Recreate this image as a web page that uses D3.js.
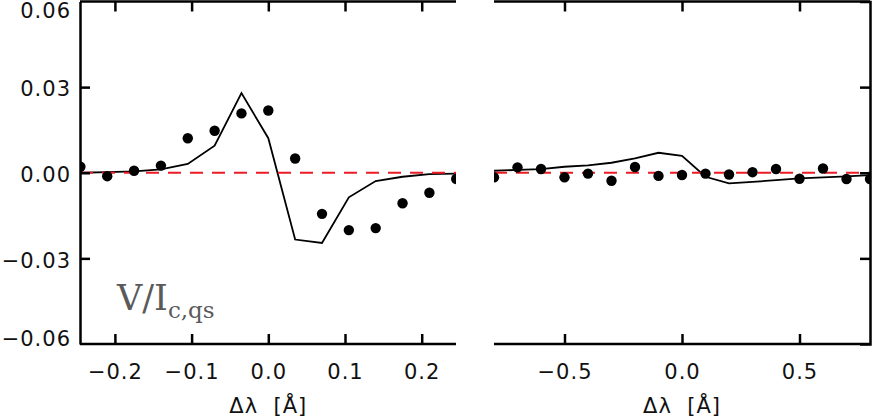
<!DOCTYPE html>
<html lang="en">
<head>
<meta charset="UTF-8">
<title>Stokes V profiles</title>
<script src="https://d3js.org/d3.v7.min.js"></script>
<style>
    body { margin: 0; background: #fff; }
    svg { display: block; }
</style>
</head>
<body>
<div id="chart"></div>
<script>
// left panel: narrow wavelength range
var leftDotX  = [-0.245, -0.21, -0.175, -0.14, -0.105, -0.07, -0.035, 0.0, 0.035, 0.07, 0.105, 0.14, 0.175, 0.21, 0.245];
var leftDotY  = [0.0021, -0.0012, 0.0007, 0.0025, 0.0121, 0.0147, 0.0208, 0.0218, 0.0050, -0.0144, -0.0201, -0.0194, -0.0107, -0.0070, -0.0022];
var leftLineY = [0.0, 0.0002, 0.0005, 0.0012, 0.0031, 0.0095, 0.0279, 0.0121, -0.0234, -0.0246, -0.0086, -0.0029, -0.0014, -0.0005, -0.0003];
var leftTicksX = [-0.2, -0.1, 0.0, 0.1, 0.2];

// right panel: wide wavelength range
var rightDotX  = [-0.8, -0.7, -0.6, -0.5, -0.4, -0.3, -0.2, -0.1, 0.0, 0.1, 0.2, 0.3, 0.4, 0.5, 0.6, 0.7, 0.8];
var rightDotY  = [-0.0016, 0.0019, 0.0013, -0.0016, -0.0003, -0.0028, 0.0020, -0.0011, -0.0008, -0.0003, -0.0006, 0.0002, 0.0013, -0.0021, 0.0015, -0.0022, -0.0022];
var rightLineY = [0.0007, 0.0010, 0.0013, 0.0021, 0.0026, 0.0035, 0.0050, 0.0070, 0.0059, -0.0014, -0.0037, -0.0032, -0.0026, -0.0020, -0.0016, -0.0013, -0.0008];
var rightTicksX = [-0.5, 0.0, 0.5];

var yTicks = [0.06, 0.03, 0.0, -0.03, -0.06];

var W = 872, H = 418;
var plotTop = 1.5, plotBottom = 344;
var FONT = "'DejaVu Sans', sans-serif";

var svg = d3.select("#chart").append("svg")
    .attr("width", W)
    .attr("height", H);

var y = d3.scaleLinear().domain([-0.06, 0.06]).range([plotBottom, plotTop]);

function fmtX(d) {
    return d3.format(".1f")(d).replace("-", "\u2212");
}
function fmtY(d) {
    return d3.format(".2f")(d).replace("-", "\u2212");
}
function styleLabels(sel) {
    sel.selectAll(".tick text")
        .style("font-family", FONT)
        .style("font-size", "21px")
        .style("letter-spacing", "1px")
        .style("fill", "#111");
}

function drawPanel(opts) {
    var x = d3.scaleLinear().domain(opts.domain).range([opts.x0, opts.x1]);
    var g = svg.append("g");
    var clipId = "clip" + opts.name;

    svg.append("clipPath").attr("id", clipId)
        .append("rect")
        .attr("x", opts.x0).attr("y", plotTop)
        .attr("width", opts.x1 - opts.x0).attr("height", plotBottom - plotTop);

    var plot = g.append("g").attr("clip-path", "url(#" + clipId + ")");

    // model curve
    var line = d3.line().x(function(d, i) { return x(opts.xs[i]); }).y(function(d) { return y(d); });
    plot.append("path")
        .datum(opts.line)
        .attr("d", line)
        .attr("fill", "none")
        .attr("stroke", "#000")
        .attr("stroke-width", 1.8);

    // zero line
    plot.append("line")
        .attr("x1", opts.x0).attr("x2", opts.x1)
        .attr("y1", y(0)).attr("y2", y(0))
        .attr("stroke", "#ec1b24")
        .attr("stroke-width", 2.2)
        .attr("stroke-dasharray", "13,9");

    // observed points
    plot.selectAll("circle")
        .data(opts.dots)
        .enter()
        .append("circle")
        .attr("cx", function(d, i) { return x(opts.xs[i]); })
        .attr("cy", function(d) { return y(d); })
        .attr("r", 5.2)
        .attr("fill", "#000");

    // x axes (bottom with labels, top mirrored), ticks inward
    var bottomAxis = d3.axisBottom(x).tickValues(opts.ticks).tickSize(-10).tickPadding(20).tickFormat(fmtX);
    var topAxis = d3.axisTop(x).tickValues(opts.ticks).tickSize(-10).tickFormat("");

    var ba = g.append("g").attr("transform", "translate(0," + plotBottom + ")").call(bottomAxis);
    var ta = g.append("g").attr("transform", "translate(0," + plotTop + ")").call(topAxis);
    [ba, ta].forEach(function(a) {
        a.select(".domain").attr("stroke-width", 2.5).attr("d", "M" + opts.x0 + ",0H" + opts.x1);
        a.selectAll(".tick line").attr("stroke-width", 2.5);
    });
    styleLabels(ba);

    // y axis on the outer side only
    var yTickIn = [0.03, 0.0, -0.03];
    if (opts.side === "left") {
        var la = g.append("g").attr("transform", "translate(" + opts.x0 + ",0)")
            .call(d3.axisLeft(y).tickValues(yTicks).tickSize(0).tickPadding(9).tickFormat(fmtY));
        la.select(".domain").attr("stroke-width", 2.5);
        styleLabels(la);
        // labels sit slightly below their tick; the end labels are kept inside the frame
        la.selectAll(".tick text").attr("dy", function(d) {
            if (d === 0.06) return "0.76em";
            if (d === -0.06) return "0.05em";
            return "0.42em";
        });
        la.selectAll(".tick").filter(function(d) { return yTickIn.indexOf(d) >= 0; })
            .append("line").attr("x2", 10).attr("stroke", "#000").attr("stroke-width", 2.5);
    } else {
        var ra = g.append("g").attr("transform", "translate(" + opts.x1 + ",0)")
            .call(d3.axisRight(y).tickValues(yTickIn).tickSize(-10).tickFormat(""));
        ra.select(".domain").attr("stroke-width", 2.5);
        ra.selectAll(".tick line").attr("stroke-width", 2.5);
    }

    // x axis title
    g.append("text")
        .attr("x", x(0))
        .attr("y", 413)
        .attr("text-anchor", "middle")
        .style("font-family", FONT)
        .style("font-size", "21px")
        .style("letter-spacing", "1px")
        .style("white-space", "pre")
        .attr("fill", "#111")
        .text("\u0394\u03bb  [\u00c5]");

    return x;
}

drawPanel({name: "L", domain: [-0.2455, 0.2447], x0: 80, x1: 456, xs: leftDotX, dots: leftDotY, line: leftLineY, ticks: leftTicksX, side: "left"});
drawPanel({name: "R", domain: [-0.8, 0.8], x0: 494, x1: 870, xs: rightDotX, dots: rightDotY, line: rightLineY, ticks: rightTicksX, side: "right"});

// panel label
var lab = svg.append("text")
    .attr("x", 117)
    .attr("y", 310)
    .style("font-family", "'DejaVu Serif', 'Liberation Serif', serif")
    .style("font-size", "35px")
    .attr("fill", "#5a5a5a");
lab.append("tspan").text("V/I");
lab.append("tspan").style("font-size", "23px").attr("dy", 8).text("c,qs");
</script>
</body>
</html>
